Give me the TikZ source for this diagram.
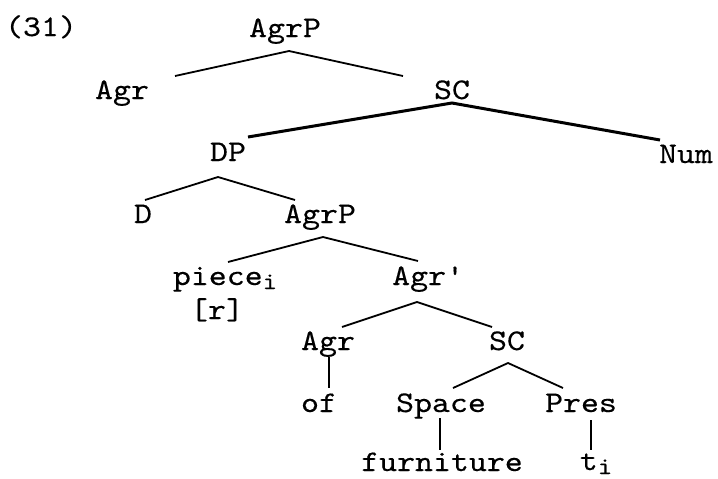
\documentclass[tikz,border=0pt]{standalone}
\usepackage{fontspec}
\newfontfamily\treefont[FakeStretch=1.14,FakeBold=0.3]{lmmono10-regular.otf}
\usepackage{tikz}
\usetikzlibrary{positioning,calc}
\newcommand{\idx}[1]{\raisebox{-2pt}{\fontsize{12}{12}\selectfont #1}}

\begin{document}
\begin{tikzpicture}[x=0.5pt,y=-0.5pt,
    lbl/.style={font=\treefont\fontsize{15}{18}\selectfont,inner sep=0pt,anchor=base},
    edge/.style={line width=0.9pt},
    heavy/.style={line width=1.5pt},
    stem/.style={line width=0.6pt}]
  \useasboundingbox[fill=white] (0,0) rectangle (718,478);
  % labels
  \node[lbl] (ex) at (41,36) {(31)};
  \node[lbl] (agrp) at (285,37) {AgrP};
  \node[lbl] (agr) at (122,99) {Agr};
  \node[lbl] (sc) at (452,99) {SC};
  \node[lbl] (dp) at (228,161) {DP};
  \node[lbl] (num) at (686,163) {Num};
  \node[lbl] (d) at (143,223) {D};
  \node[lbl] (agrpl) at (320,223) {AgrP};
  \node[lbl] (piece) at (225,285) {piece\idx{i}};
  \node[lbl] (r) at (217,319) {[r]};
  \node[lbl] (agrbar) at (427,285) {Agr\textquotesingle};
  \node[lbl] (agrl) at (328,350) {Agr};
  \node[lbl] (scl) at (507,350) {SC};
  \node[lbl] (of) at (319,412) {of};
  \node[lbl] (space) at (441,412) {Space};
  \node[lbl] (pres) at (581,412) {Pres};
  \node[lbl] (furn) at (442,471) {furniture};
  \node[lbl] (ti) at (596,470) {t\idx{i}};
  % branches
  \draw[edge] ([shift={(53,-23)}]agr.base) -- ([shift={(4,14)}]agrp.base) -- ([shift={(-49,-23)}]sc.base);
  \draw[heavy] ([shift={(20,-24)}]dp.base) -- ([shift={(0,4)}]sc.base) -- ([shift={(-26,-23)}]num.base);
  \draw[edge] ([shift={(2,-23)}]d.base) -- ([shift={(-10,16)}]dp.base) -- ([shift={(-25,-23)}]agrpl.base);
  \draw[edge] ([shift={(3,-23)}]piece.base) -- ([shift={(3,14)}]agrpl.base) -- ([shift={(-9,-24)}]agrbar.base);
  \draw[edge] ([shift={(14,-23)}]agrl.base) -- ([shift={(-10,17)}]agrbar.base) -- ([shift={(-15,-23)}]scl.base);
  \draw[edge] ([shift={(12,-24)}]space.base) -- ([shift={(1,13)}]scl.base) -- ([shift={(-18,-24)}]pres.base);
  \draw[stem] ([shift={(1,7)}]agrl.base) -- ([shift={(10,-24)}]of.base);
  \draw[stem] ([shift={(-1,6)}]space.base) -- ([shift={(-2,-21)}]furn.base);
  \draw[stem] ([shift={(10,8)}]pres.base) -- ([shift={(-5,-20)}]ti.base);
\end{tikzpicture}
\end{document}
